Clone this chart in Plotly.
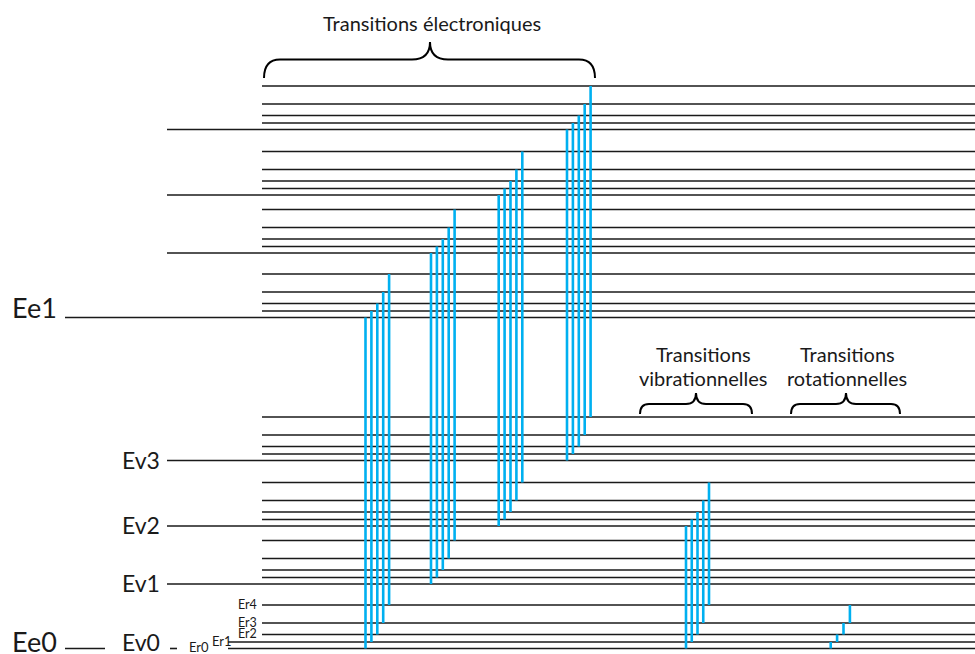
import plotly.graph_objects as go

# energy levels, arbitrary units (Ee0 = 0)
electronic_levels = [0, 331]
electronic_names = ["Ee0", "Ee1"]
vibrational_levels = [0, 64.5, 122.5, 188]
vibrational_names = ["Ev0", "Ev1", "Ev2", "Ev3"]
rotational_levels = [0, 6.5, 14, 25.5, 43.5]
rotational_names = ["Er0", "Er1", "Er2", "Er3", "Er4"]

# transitions shown
electronic_vib = [0, 1, 2, 3]          # Ee0,Ev(v),Er(j) -> Ee1,Ev(v),Er(j)
vib_transition = (0, 2)                # Ev0,Er(j) -> Ev2,Er(j) in Ee0
rot_transitions = [(0, 1), (1, 2), (2, 3), (3, 4)]  # Er(j) -> Er(j+1) in Ev0

brace_labels = [["Transitions électroniques"],
                ["Transitions", "vibrationnelles"],
                ["Transitions", "rotationnelles"]]

W, H = 975, 654
BASE = 648.5  # pixel row of Ee0
BLUE = "#00B0F0"
FONT = "Lato"


def py(p):
    # pixel row -> axis value, for decorations only
    return BASE - p


def energy(e, v, j):
    return electronic_levels[e] + vibrational_levels[v] + rotational_levels[j]


# black level lines
lx, ly = [], []
for e in range(len(electronic_levels)):
    for v in range(len(vibrational_levels)):
        for j in range(len(rotational_levels)):
            E = energy(e, v, j)
            if j > 0:
                segs = [(228 if (e == 0 and v == 0 and j == 1) else 262, W)]
            elif v > 0:
                segs = [(167, W)]
            elif e == 1:
                segs = [(65, W)]
            else:
                segs = [(65, 105), (170, 177), (228, W)]
            for a, b in segs:
                lx += [a, b, None]
                ly += [E, E, None]

# blue transitions
bx, by = [], []
elec_x = [365.5, 431, 498.7, 567]
for v, x0 in zip(electronic_vib, elec_x):
    for j in range(len(rotational_levels)):
        x = x0 + 5.9 * j
        bx += [x, x, None]
        by += [energy(0, v, j), energy(1, v, j), None]
for j in range(len(rotational_levels)):
    x = 686 + 5.75 * j
    bx += [x, x, None]
    by += [energy(0, vib_transition[0], j), energy(0, vib_transition[1], j), None]
for k, (j0, j1) in enumerate(rot_transitions):
    x = 830.7 + 6.4 * k
    bx += [x, x, None]
    by += [energy(0, 0, j0), energy(0, 0, j1), None]

fig = go.Figure()
fig.add_trace(go.Scatter(x=lx, y=ly, mode="lines",
                         line=dict(color="#1a1a1a", width=1.6), hoverinfo="skip"))
fig.add_trace(go.Scatter(x=bx, y=by, mode="lines",
                         line=dict(color=BLUE, width=2.6), hoverinfo="skip"))


def brace(x0, x1, xm, yend, yflat, ytip, r, r2):
    ye, yf, yt = py(yend), py(yflat), py(ytip)
    return (f"M {x0},{ye} Q {x0},{yf} {x0 + r},{yf} L {xm - r2},{yf} "
            f"Q {xm},{yf} {xm},{yt} Q {xm},{yf} {xm + r2},{yf} "
            f"L {x1 - r},{yf} Q {x1},{yf} {x1},{ye}")


braces = [
    (264, 595, 430, 78, 59.5, 42, 16, 18),
    (640, 752, 696, 414, 404, 393, 9, 10),
    (791, 900, 846, 414, 404, 393, 9, 10),
]
for b in braces:
    fig.add_shape(type="path", path=brace(*b), xref="x", yref="y",
                  line=dict(color="black", width=2))

ann = []
# brace labels
ann.append(dict(x=432, y=py(23), text=brace_labels[0][0], size=20, xanchor="center"))
for cx, lines in [(703, brace_labels[1]), (847, brace_labels[2])]:
    for i, t in enumerate(lines):
        ann.append(dict(x=cx, y=py(354 + 23.5 * i), text=t, size=20, xanchor="center"))
# electronic labels
ann.append(dict(x=58, y=energy(1, 0, 0) + 10, text=electronic_names[1], size=27, xanchor="right"))
ann.append(dict(x=58, y=energy(0, 0, 0) + 7, text=electronic_names[0], size=27, xanchor="right"))
# vibrational labels
for v in range(len(vibrational_levels)):
    ann.append(dict(x=161, y=energy(0, v, 0) + (7 if v == 0 else 1),
                    text=vibrational_names[v], size=23, xanchor="right"))
# rotational labels
ann.append(dict(x=188, y=energy(0, 0, 0) + 1.5, text=rotational_names[0], size=13, xanchor="left"))
ann.append(dict(x=211, y=energy(0, 0, 1) + 1.5, text=rotational_names[1], size=13, xanchor="left"))
for j in range(2, 5):
    ann.append(dict(x=258, y=energy(0, 0, j) + 1, text=rotational_names[j], size=12.5, xanchor="right"))

for a in ann:
    fig.add_annotation(x=a["x"], y=a["y"], text=a["text"], xref="x", yref="y",
                       xanchor=a["xanchor"], yanchor="middle", showarrow=False,
                       borderpad=0,
                       font=dict(family=FONT, size=a["size"], color="#1a1a1a"))

fig.update_layout(
    width=W, height=H,
    margin=dict(l=0, r=0, t=0, b=0),
    paper_bgcolor="white", plot_bgcolor="white",
    showlegend=False,
    xaxis=dict(range=[0, W], visible=False, fixedrange=True),
    yaxis=dict(range=[BASE - H, BASE], visible=False, fixedrange=True),
)

# page body margin would shift the figure by 8px
fig.write_html("out.html", config={"displayModeBar": False},
               post_script="document.body.style.margin='0';")
